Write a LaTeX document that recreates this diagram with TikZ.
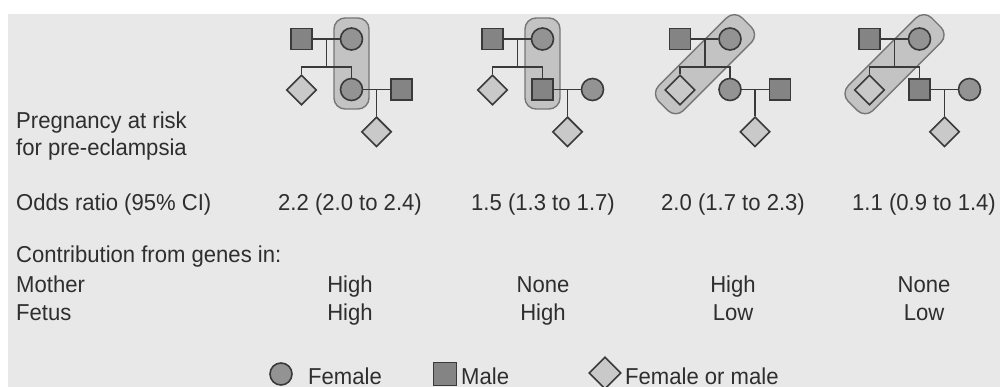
\documentclass[tikz,border=0pt]{standalone}
\usepackage{fontspec}
\setmainfont{Liberation Sans}[FakeStretch=0.96]
\usetikzlibrary{shapes.geometric, calc, positioning}
\definecolor{panel}{HTML}{E8E8E8}
\definecolor{ink}{HTML}{2E2E2E}
\definecolor{edge}{HTML}{3A3A3A}
\definecolor{malegray}{HTML}{848484}
\definecolor{femgray}{HTML}{939393}
\definecolor{diagray}{HTML}{C9C9C9}
\definecolor{bandgray}{HTML}{C3C3C3}
\definecolor{bandedge}{HTML}{767676}
\tikzset{
x=1pt, y=-1pt, % pixel-like units, y pointing down
every node/.style={font=\fontsize{23}{26}\selectfont, text=ink},
person/.style={draw=edge, line width=1.6pt, inner sep=0pt}, % common look of the pedigree symbols
male/.style={person, rectangle, minimum size=21pt, fill=malegray},
female/.style={person, circle, minimum size=22pt, fill=femgray},
unknown/.style={person, diamond, minimum size=30pt, fill=diagray},
band/.style={draw=bandedge, line width=1.4pt, fill=bandgray, rounded corners=11pt, inner sep=0pt}, % the shaded highlight
link/.style={draw=edge, line width=1.7pt},
rowtext/.style={anchor=base west, inner sep=0pt},
celltext/.style={anchor=base, inner sep=0pt},
}
\begin{document}
\begin{tikzpicture}
    \useasboundingbox (0,0) rectangle (1000,387);
    \fill[panel] (8,14) rectangle (1000,387);
    % the four pedigrees
    \foreach \x/\kid/\mate/\bx/\by/\bw/\bh/\ba [count=\i] in {
        301.5/female/male/50/63.5/35/91/0,
        492.5/male/female/50/63.5/35/91/0,
        680/female/male/25/64.2/118/35/45,
        869.5/male/female/25/64.2/118/35/45}
    {
        \node[band, minimum width=\bw pt, minimum height=\bh pt, rotate=\ba] (h\i) at (\x+\bx,\by) {};
        \node[male] (p\i) at (\x,39) {};
        \node[female] (q\i) at (\x+50,39) {};
        \node[unknown] (s\i) at (\x,90) {};
        \node[\kid] (c\i) at (\x+50,89.5) {};
        \node[\mate] (w\i) at (\x+100,89.5) {};
        \coordinate (m\i) at ($(p\i)!.5!(q\i)$);
        \coordinate (b\i) at (\x,67);
        \coordinate (n\i) at ($(c\i)!.5!(w\i)$);
        \node[unknown, below=26.5pt of n\i] (g\i) {};
        \draw[link]
        (p\i) -- (q\i)
        (m\i) -- (m\i |- b\i)
        (s\i.north) -- (b\i) -| (c\i.north)
        (c\i) -- (w\i)
        (n\i) -- (g\i);
    }
    % row headings
    \node[rowtext] (risk) at (16,129) {Pregnancy at risk};
    \node[rowtext] (pre) at (16,156) {for pre-eclampsia};
    \node[rowtext] (odds) at (16,211) {Odds ratio (95\% CI)};
    \node[rowtext] (genes) at (16,262) {Contribution from genes in:};
    \node[rowtext] (mother) at (16,292) {Mother};
    \node[rowtext] (fetus) at (16,320) {Fetus};
    % table values
    \foreach \cx/\ratio/\mom/\fet [count=\j] in {
        350/2.2 (2.0 to 2.4)/High/High,
        543/1.5 (1.3 to 1.7)/None/High,
        733/2.0 (1.7 to 2.3)/High/Low,
        924/1.1 (0.9 to 1.4)/None/Low}
    {
        \node[celltext] (or\j) at (\cx,211) {\ratio};
        \node[celltext] (mo\j) at (\cx,292) {\mom};
        \node[celltext] (fe\j) at (\cx,320) {\fet};
    }
    % key
    \node[female] (kf) at (281,374) {};
    \node[rowtext] (tf) at (308,384) {Female};
    \node[male, minimum size=23pt] (km) at (445,374) {};
    \node[rowtext] (tm) at (461,384) {Male};
    \node[unknown, minimum size=32pt] (ku) at (605,373) {};
    \node[rowtext] (tu) at (625,384) {Female or male};
\end{tikzpicture}
\end{document}
